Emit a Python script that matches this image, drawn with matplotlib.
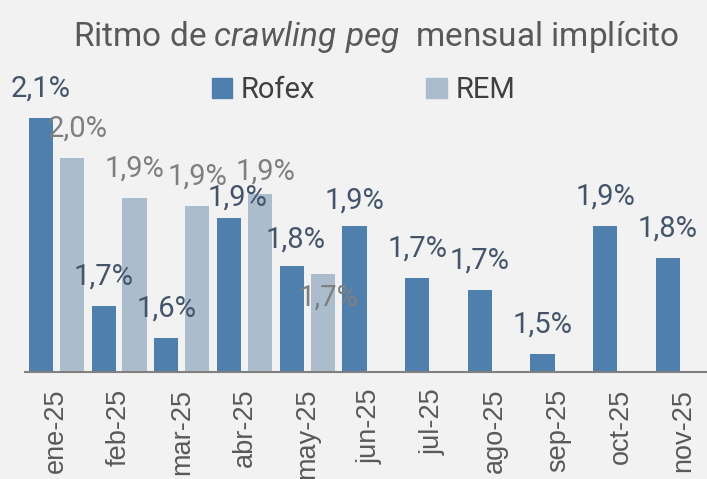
import matplotlib
matplotlib.use("Agg")
import matplotlib.pyplot as plt
import numpy as np
from matplotlib.patches import Patch

months = ["ene-25", "feb-25", "mar-25", "abr-25", "may-25", "jun-25",
          "jul-25", "ago-25", "sep-25", "oct-25", "nov-25"]
rofex = [2.13, 1.66, 1.58, 1.88, 1.76, 1.86, 1.73, 1.70, 1.54, 1.86, 1.78]
rem = [2.03, 1.93, 1.91, 1.94, 1.74]

bg = "#f2f2f2"
c_rofex = "#4f7fac"
c_rem = "#abbdcd"
fam = ["Roboto", "DejaVu Sans"]

plt.rcParams["mathtext.fontset"] = "custom"
plt.rcParams["mathtext.rm"] = "Roboto"
plt.rcParams["mathtext.it"] = "Roboto:italic"

fig = plt.figure(figsize=(7.07, 4.79), dpi=100, facecolor=bg)
ax = fig.add_axes([25 / 707, 107 / 479, 682 / 707, 272 / 479])
ax.set_facecolor(bg)

ymin = 1.495  # axis floor of the original chart
x = np.arange(len(months))
w = 0.385
ax.bar(x - 0.247, np.array(rofex) - ymin, w, bottom=ymin, color=c_rofex, zorder=2)
ax.bar(x[:len(rem)] + 0.247, np.array(rem) - ymin, w, bottom=ymin, color=c_rem, zorder=2)

ax.set_ylim(ymin, ymin + 0.68)
ax.set_xlim(-0.5, 10.375)

# label nudges (dx, dy in points) for a few crowded labels
nudge_r = {3: (6, -6), 4: (3, -2), 5: (0, -3)}
nudge_m = {0: (4, 0), 3: (4, -5), 4: (4, -38)}

def lab(v):
    return f"{v:.1f}".replace(".", ",") + "%"

for i, v in enumerate(rofex):
    dx, dy = nudge_r.get(i, (0, 0))
    ax.annotate(lab(v), (x[i] - 0.247, v), xytext=(dx, 21 + dy),
                textcoords="offset points", ha="center", va="center",
                fontsize=21, color="#44546a", family=fam)
for i, v in enumerate(rem):
    dx, dy = nudge_m.get(i, (0, 0))
    ax.annotate(lab(v), (x[i] + 0.247, v), xytext=(dx, 21 + dy),
                textcoords="offset points", ha="center", va="center",
                fontsize=21, color="#7f7f7f", family=fam)

ax.set_yticks([])
for s in ["top", "right", "left"]:
    ax.spines[s].set_visible(False)
ax.spines["bottom"].set_color("#808080")
ax.spines["bottom"].set_linewidth(1.5)
ax.set_xticks(x)
ax.set_xticklabels(months, rotation=90, fontsize=19.5, color="#595959",
                   family=["Liberation Sans", "DejaVu Sans"])
ax.tick_params(axis="x", length=0, pad=12)

fig.text(0.5325, 1 - 46 / 479, r"Ritmo de $\mathit{crawling\ peg}$  mensual implícito",
         ha="center", va="baseline", fontsize=24, color="#595959", family=fam)

handles = [Patch(color=c_rofex), Patch(color=c_rem)]
fig.legend(handles, ["Rofex", "REM"], loc="center", ncol=2,
           bbox_to_anchor=(0.514, 1 - 90 / 479), frameon=False,
           prop={"family": fam, "size": 21}, labelcolor="#404040",
           handlelength=0.7, handleheight=0.7, handletextpad=0.3,
           columnspacing=3.8)

fig.savefig("out.png", dpi=100, facecolor=bg)
